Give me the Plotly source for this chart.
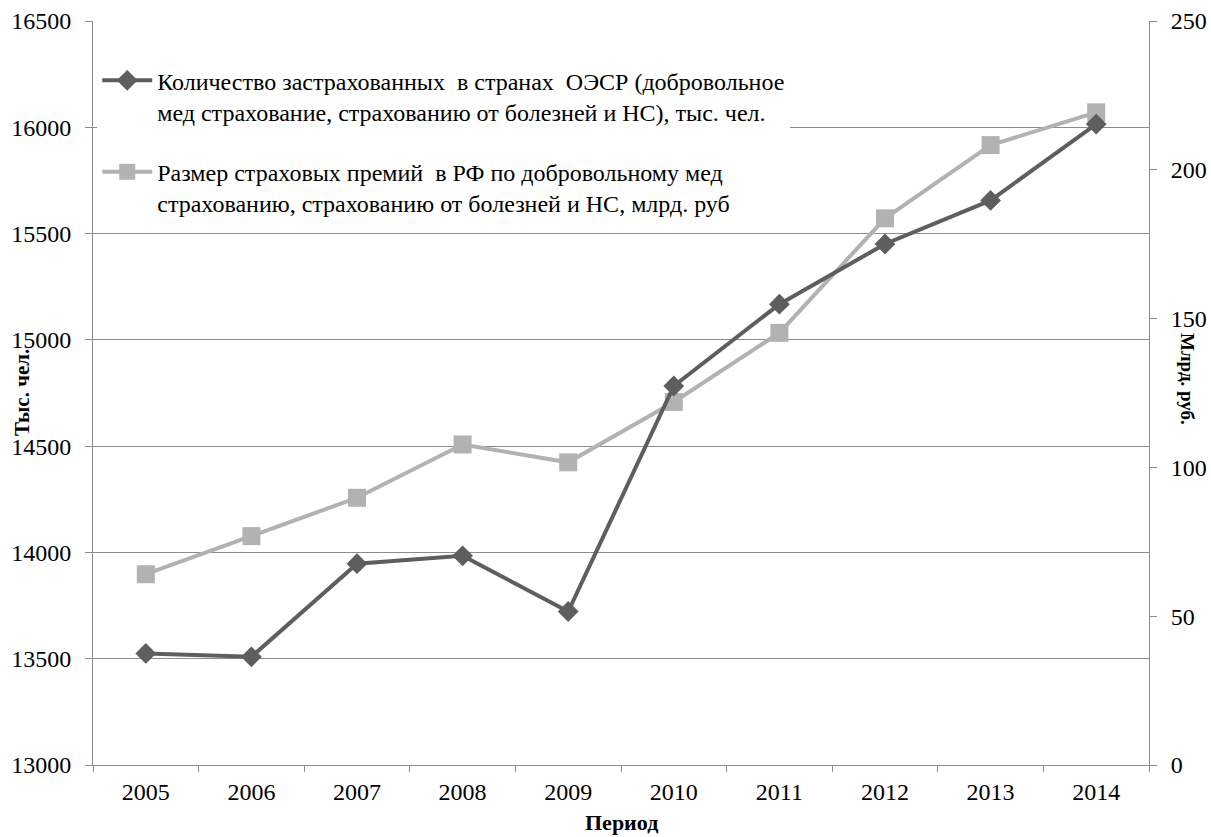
import plotly.graph_objects as go

# Periods (category axis)
years = ["2005", "2006", "2007", "2008", "2009", "2010", "2011", "2012", "2013", "2014"]

# Insured persons in OECD countries, thousand people (left axis)
insured_thousands = [13525, 13509, 13947, 13984, 13722, 14783, 15168, 15451, 15656, 16015]

# Insurance premiums in Russia, billion rubles (right axis)
premiums_bln_rub = [64.1, 76.9, 89.8, 107.7, 101.7, 122.0, 145.2, 183.7, 208.3, 219.3]

name_insured = ("Количество застрахованных  в странах  ОЭСР (добровольное<br>"
                "мед страхование, страхованию от болезней и НС), тыс. чел.")
name_premiums = ("Размер страховых премий  в РФ по добровольному мед<br>"
                 "страхованию, страхованию от болезней и НС, млрд. руб")

FONT = "Liberation Serif"
AXIS_GRAY = "#8c8c8c"
DARK = "#5e5e5e"
LIGHT = "#b2b2b2"
TICK_SIZE = 24

fig = go.Figure()

# Premiums on the base (right-hand) axis so the insured series is drawn above it
fig.add_trace(go.Scatter(
    x=years, y=premiums_bln_rub, name=name_premiums, yaxis="y",
    mode="lines+markers", legendgroup="b", legendrank=2,
    line=dict(color=LIGHT, width=4),
    marker=dict(symbol="square", size=18, color=LIGHT),
))
fig.add_trace(go.Scatter(
    x=years, y=insured_thousands, name=name_insured, yaxis="y2",
    mode="lines+markers", legendgroup="a", legendrank=1,
    line=dict(color=DARK, width=4),
    marker=dict(symbol="diamond", size=16, color=DARK),
))

fig.update_layout(
    width=1211, height=837,
    margin=dict(l=93, r=62, t=21, b=72, autoexpand=False),
    paper_bgcolor="white", plot_bgcolor="white",
    font=dict(family=FONT, size=20, color="black"),
    xaxis=dict(
        type="category", range=[-0.5, 9.5], automargin=False,
        showline=True, linecolor=AXIS_GRAY, linewidth=1,
        ticks="outside", tickson="boundaries", ticklen=6, tickcolor=AXIS_GRAY,
        showgrid=False, zeroline=False, ticklabelstandoff=5,
        tickfont=dict(family=FONT, size=TICK_SIZE),
    ),
    yaxis=dict(
        side="right", range=[0, 250], tickvals=[0, 50, 100, 150, 200, 250],
        automargin=False,
        showline=True, linecolor=AXIS_GRAY, linewidth=1,
        ticks="outside", ticklen=7, tickcolor=AXIS_GRAY,
        showgrid=False, zeroline=False, ticklabelstandoff=9,
        tickfont=dict(family=FONT, size=TICK_SIZE),
    ),
    yaxis2=dict(
        side="left", overlaying="y", range=[13000, 16500],
        tickvals=list(range(13000, 16501, 500)), automargin=False,
        showline=True, linecolor=AXIS_GRAY, linewidth=1,
        ticks="outside", ticklen=7, tickcolor=AXIS_GRAY,
        showgrid=True, gridcolor=AXIS_GRAY, gridwidth=1, zeroline=False,
        ticklabelstandoff=9, tickformat="d",
        tickfont=dict(family=FONT, size=TICK_SIZE),
    ),
    legend=dict(
        x=0.004, y=0.95, xanchor="left", yanchor="top",
        bgcolor="white", borderwidth=0, valign="top",
        tracegroupgap=26, itemwidth=50, traceorder="grouped",
        font=dict(family=FONT, size=24, color="black"),
    ),
    showlegend=True,
)

# Axis titles
fig.add_annotation(text="<b>Тыс. чел.</b>", xref="paper", yref="paper",
                   x=0, y=0.5, xanchor="center", yanchor="middle",
                   xshift=-71, yshift=0, textangle=-90,
                   showarrow=False, font=dict(family=FONT, size=21))
fig.add_annotation(text="<b>Млрд. руб.</b>", xref="paper", yref="paper",
                   x=1, y=0.5, xanchor="center", yanchor="middle",
                   xshift=39, yshift=14, textangle=90,
                   showarrow=False, font=dict(family=FONT, size=19))
fig.add_annotation(text="<b>Период</b>", xref="paper", yref="paper",
                   x=0.5, y=0, xanchor="center", yanchor="middle",
                   yshift=-57, showarrow=False,
                   font=dict(family=FONT, size=22))

fig.write_html("out.html")
